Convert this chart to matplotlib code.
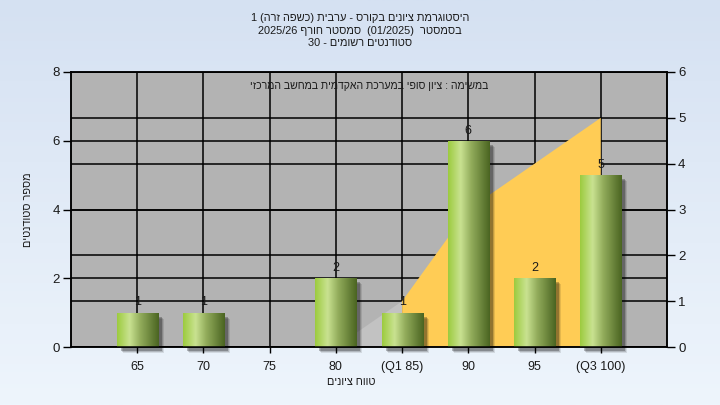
import re
import numpy as np
import matplotlib
matplotlib.use("Agg")
import matplotlib.pyplot as plt
from matplotlib.patches import Polygon, Rectangle
from matplotlib.colors import LinearSegmentedColormap
import matplotlib.transforms as mtransforms

plt.rcParams['font.family'] = ['Liberation Sans', 'DejaVu Sans']

# ---------------- data ----------------
categories = ["65", "70", "75", "80", "(Q1 85)", "90", "95", "(Q3 100)"]
counts = [1, 1, 0, 2, 1, 6, 2, 5]
# quartile area (right axis units): category index, value
area_x = [4, 5, 7]
area_y = [1, 3, 5]
lower_x = [3, 4]
lower_y = [0, 1]

title_lines = [
    "היסטוגרמת ציונים בקורס - ערבית (כשפה זרה) 1",
    "בסמסטר  (01/2025)  סמסטר חורף 2025/26",
    "סטודנטים רשומים - 30",
]
inner_text = "במשימה : ציון סופי במערכת האקדמית במחשב המרכזי"
xlabel = "טווח ציונים"
ylabel = "מספר סטודנטים"
left_ticks = [0, 2, 4, 6, 8]
right_ticks = [0, 1, 2, 3, 4, 5, 6]


def visual(s):
    """Simple RTL -> visual order conversion (keeps number runs LTR)."""
    tokens = re.findall(r'[0-9A-Za-z]+(?:[/.][0-9A-Za-z]+)*|[^0-9A-Za-z]', s)
    mirror = {'(': ')', ')': '('}
    out = []
    for t in reversed(tokens):
        if re.match(r'[0-9A-Za-z]', t):
            out.append(t)
        else:
            out.append(mirror.get(t, t))
    return ''.join(out)


W, H = 720, 405
fig = plt.figure(figsize=(W / 100, H / 100), dpi=100)

# background gradient
bg = fig.add_axes([0, 0, 1, 1], zorder=-10)
grad = np.linspace(0, 1, 256).reshape(-1, 1)
bg_cmap = LinearSegmentedColormap.from_list("bg", ["#d5e1f2", "#eef5fc"])
bg.imshow(grad, cmap=bg_cmap, aspect='auto', extent=[0, 1, 0, 1])
bg.set_axis_off()

ax = fig.add_axes([71 / W, 1 - 347 / H, 596 / W, 275 / H])
ax.set_facecolor("#b3b3b3")
ax2 = ax.twinx()
ax2.patch.set_visible(False)
ax.set_xlim(-1, len(categories))
ax.set_ylim(0, 8)
ax2.set_ylim(0, 6)

xs = np.arange(len(categories))

# gridlines
for v in left_ticks:
    ax.plot([-1, len(categories)], [v, v], color='black', lw=1.1, zorder=1)
for v in right_ticks:
    ax.plot([-1, len(categories)], [v, v], color='black', lw=1.1, zorder=1,
            transform=ax2.transData)
for x in xs:
    ax.plot([x, x], [0, 8], color='black', lw=1.1, zorder=1)

# lighter triangle and yellow quartile area (right axis)
tri = Polygon([(lower_x[0], lower_y[0]), (lower_x[1], lower_y[1]), (lower_x[1], 0)],
              closed=True, facecolor="#c2c2c2", edgecolor='none', zorder=2,
              transform=ax2.transData)
ax.add_patch(tri)
pts = [(area_x[0], 0)] + list(zip(area_x, area_y)) + [(area_x[-1], 0)]
area = Polygon(pts, closed=True, facecolor="#ffcc55", edgecolor='none', zorder=2,
               transform=ax2.transData)
ax.add_patch(area)

# bars
bw = 0.62
bar_cmap = LinearSegmentedColormap.from_list(
    "bar", [(0, "#9ccb3e"), (0.3, "#c9e291"), (0.55, "#93ad5c"), (1, "#4a6421")])
gx = np.linspace(0, 1, 256).reshape(1, -1)
bars = ax.bar(xs, counts, width=bw, color='none', edgecolor='none', zorder=4)
for b, c in zip(bars, counts):
    if c <= 0:
        continue
    x0 = b.get_x()
    # shadow
    for i, (dx, alpha) in enumerate([(6, 0.10), (5, 0.15), (4, 0.25)]):
        off = mtransforms.offset_copy(ax.transData, fig=fig, x=dx, y=-dx, units='dots')
        sh = Rectangle((x0, 0), bw, c, transform=off, facecolor='black',
                       alpha=alpha, edgecolor='none', zorder=3, clip_on=False)
        ax.add_patch(sh)
    im = ax.imshow(gx, cmap=bar_cmap, aspect='auto',
                   extent=[x0, x0 + bw, 0, c], zorder=4, interpolation='bilinear')
    im.set_clip_path(b)
    ax.annotate(str(c), (b.get_x() + bw / 2, c), xytext=(0, 3),
                textcoords='offset points', ha='center', va='bottom',
                fontsize=9, color='#1a1a1a', zorder=6)

ax.set_xlim(-1, len(categories))
ax.set_ylim(0, 8)

# axes styling
ax.set_xticks(xs)
ax.set_xticklabels(categories, fontsize=9, color='#1a1a1a')
ax.set_yticks(left_ticks)
ax.set_yticklabels([str(v) for v in left_ticks], fontsize=9.5, color='#1a1a1a')
ax2.set_yticks(right_ticks)
ax2.set_yticklabels([str(v) for v in right_ticks], fontsize=9.5, color='#1a1a1a')
ax.tick_params(axis='y', length=6, width=1, direction='out', pad=2)
ax.tick_params(axis='x', length=4, width=1, direction='out', pad=6)
ax2.tick_params(axis='y', length=6, width=1, direction='out', pad=2)
for a in (ax, ax2):
    for s in a.spines.values():
        s.set_color('black')
        s.set_linewidth(1.1)

ax.set_xlabel(visual(xlabel), fontsize=7.8, color='#1a1a1a')
ax.xaxis.set_label_coords((351 - 71) / 596, -0.11)
ax.set_ylabel(visual(ylabel), fontsize=7.8, color='#1a1a1a')
ax.yaxis.set_label_coords(-(71 - 33) / 596, 0.5)

ax.text(0.5, 0.95, visual(inner_text), transform=ax.transAxes, ha='center',
        va='center', fontsize=7.6, color='#1a1a1a', zorder=7)

for i, line in enumerate(title_lines):
    fig.text(0.5, 1 - (18 + 12.5 * i) / H, visual(line), ha='center', va='center',
             fontsize=7.9, color='#1a1a1a')

fig.savefig("out.png", dpi=100)
